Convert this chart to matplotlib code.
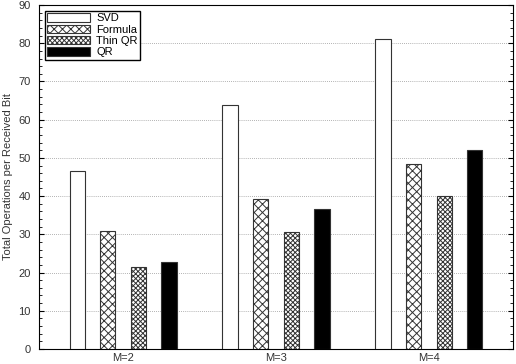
import matplotlib
matplotlib.use("Agg")
import matplotlib.pyplot as plt
import numpy as np

plt.rcParams["font.family"] = ["Liberation Sans", "DejaVu Sans"]
plt.rcParams["hatch.linewidth"] = 0.7

groups = ["M=2", "M=3", "M=4"]
methods = ["SVD", "Formula", "Thin QR", "QR"]
svd = [46.7, 63.9, 81.2]
formula = [30.8, 39.2, 48.3]
thin_qr = [21.5, 30.7, 39.9]
qr = [22.7, 36.5, 52.1]

series = [svd, formula, thin_qr, qr]
faces = ["white", "white", "white", "black"]
hatches = [None, "xxxx", "xxxxxxx", None]

fig = plt.figure(figsize=(5.16, 3.64), dpi=100)
ax = fig.add_axes([39 / 516, 15 / 364, 474 / 516, 344 / 364])

x = np.arange(1, len(groups) + 1)
offsets = [-0.3, -0.1, 0.1, 0.3]
for vals, name, fc, h, off in zip(series, methods, faces, hatches, offsets):
    ax.bar(x + off, vals, width=0.1, color=fc, edgecolor="#333333",
           hatch=h, linewidth=0.8, label=name, zorder=3)

ax.set_xlim(0.45, 3.55)
ax.set_ylim(0, 90)
ax.set_xticks(x)
ax.set_xticklabels(groups)
ax.set_yticks(np.arange(0, 91, 10))
ax.set_yticks(np.arange(0, 91, 2), minor=True)
ax.tick_params(axis="y", which="both", direction="in", right=True,
               labelsize=8, pad=6, labelcolor="#333333")
ax.tick_params(axis="y", which="minor", length=2)
ax.tick_params(axis="x", length=0, labelsize=8, pad=3, labelcolor="#333333")
ax.yaxis.grid(True, linestyle=(0, (1, 1.5)), color="#999999", linewidth=0.6)
ax.set_axisbelow(True)
ax.set_ylabel("Total Operations per Received Bit", fontsize=8,
              labelpad=4, color="#333333")
for s in ax.spines.values():
    s.set_linewidth(0.8)

ax.legend(loc="upper left", fontsize=8, frameon=True, fancybox=False,
          edgecolor="black", framealpha=1, handlelength=3.8, handleheight=0.8,
          labelspacing=0.1, borderpad=0.25, handletextpad=0.6,
          borderaxespad=0.5)

fig.savefig("out.png", dpi=100)
